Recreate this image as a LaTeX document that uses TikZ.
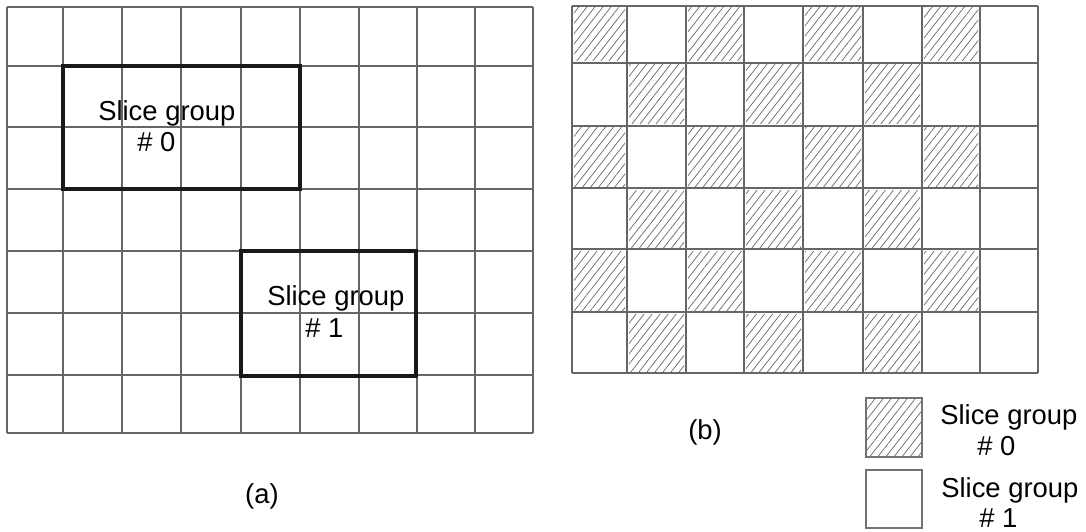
\documentclass[tikz,border=0pt]{standalone}
\usepackage{fontspec}
\setmainfont{Liberation Sans}
\usetikzlibrary{patterns.meta}

\begin{document}
\begin{tikzpicture}[x=0.025cm, y=-0.025cm,
    gridline/.style={draw=black!60, line width=0.9pt},
    groupbox/.style={draw=black!90, line width=2.8pt},
    hatched/.style={pattern={Lines[angle=52, distance=4.5pt, line width=0.5pt]},
      pattern color=black!60},
    legendbox/.style={draw=black!55, line width=0.9pt},
    txt/.style={font=\fontsize{19.5}{22}\selectfont, inner sep=0pt, anchor=base west},
    caption/.style={font=\fontsize{19.5}{22}\selectfont, inner sep=0pt}
]
\useasboundingbox (0,0) rectangle (1086,532);

% (a) macroblock grid with two rectangular slice groups
\foreach \x in {7,63,122,181,241,300,359,417,475,533}
  \draw[gridline] (\x,7) -- (\x,433);
\foreach \y in {7,66,127,189,251,313,375,433}
  \draw[gridline] (7,\y) -- (533,\y);
\draw[groupbox] (63,66) rectangle (300,189);
\draw[groupbox] (241,251) rectangle (416,376);
\node[txt] (groupA)    at (98,121)  {Slice group};
\node[txt] (groupAnum) at (137,152) {\# 0};
\node[txt] (groupB)    at (267,305) {Slice group};
\node[txt] (groupBnum) at (305,337) {\# 1};
\node[caption] (capa) at (262,496) {(a)};

% (b) checkerboard slice groups
\def\colx{{572,627,686,744,803,863,922,980,1038}}
\def\rowy{{6,63,126,188,249,312,373}}
\foreach \r in {0,...,5}
  \foreach \c in {0,...,6} {
    \pgfmathtruncatemacro\parity{mod(\r+\c,2)}
    \ifnum\parity=0
      \pgfmathsetmacro\xa{\colx[\c]+2}
      \pgfmathsetmacro\xb{\colx[\c+1]-2}
      \pgfmathsetmacro\ya{\rowy[\r]+2}
      \pgfmathsetmacro\yb{\rowy[\r+1]-2}
      \fill[hatched] (\xa,\ya) rectangle (\xb,\yb);
    \fi
  }
\foreach \x in {572,627,686,744,803,863,922,980,1038}
  \draw[gridline] (\x,6) -- (\x,373);
\foreach \y in {6,63,126,188,249,312,373}
  \draw[gridline] (572,\y) -- (1038,\y);
\node[caption] (capb) at (705,432) {(b)};

% legend
\draw[legendbox, hatched] (866,398) rectangle (922,457);
\draw[legendbox] (866,470) rectangle (922,528);
\node[txt] (legA)    at (940,424) {Slice group};
\node[txt] (legAnum) at (977,455) {\# 0};
\node[txt] (legB)    at (941,497) {Slice group};
\node[txt] (legBnum) at (979,527) {\# 1};
\end{tikzpicture}
\end{document}
